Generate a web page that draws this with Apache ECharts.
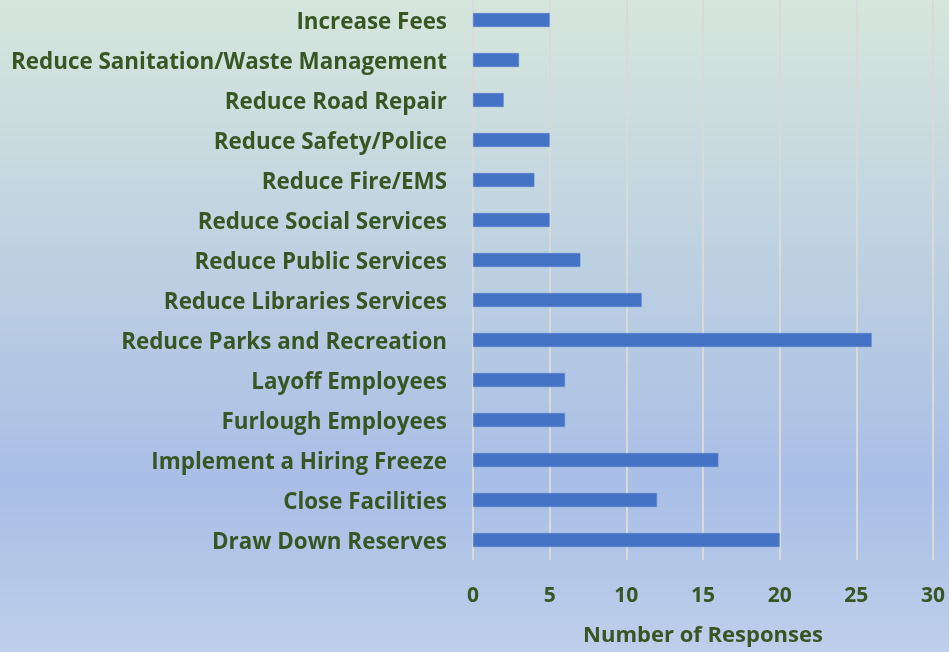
<!DOCTYPE html>
<html>
<head>
<meta charset="utf-8">
<script src="https://cdn.jsdelivr.net/npm/echarts@6/dist/echarts.min.js"></script>
<style>
  html, body { margin: 0; padding: 0; }
  #chart { width: 949px; height: 652px; }
</style>
</head>
<body>
<div id="chart"></div>
<script>
// Budget responses, listed top to bottom as shown
const categories = [
  'Increase Fees',
  'Reduce Sanitation/Waste Management',
  'Reduce Road Repair',
  'Reduce Safety/Police',
  'Reduce Fire/EMS',
  'Reduce Social Services',
  'Reduce Public Services',
  'Reduce Libraries Services',
  'Reduce Parks and Recreation',
  'Layoff Employees',
  'Furlough Employees',
  'Implement a Hiring Freeze',
  'Close Facilities',
  'Draw Down Reserves'
];
const responses = [5, 3, 2, 5, 4, 5, 7, 11, 26, 6, 6, 16, 12, 20];
const axisTitle = 'Number of Responses';

const textColor = '#375623';
const fontFamily = '"Open Sans", Lato, sans-serif';

const chart = echarts.init(document.getElementById('chart'));
chart.setOption({
  backgroundColor: new echarts.graphic.LinearGradient(0, 0, 0, 1, [
    { offset: 0, color: '#d6e6dc' },
    { offset: 0.74, color: '#a9bee6' },
    { offset: 1, color: '#bdcfea' }
  ]),
  animation: false,
  grid: { left: 473, right: 16, top: 0, bottom: 92, containLabel: false },
  xAxis: {
    type: 'value',
    min: 0,
    max: 30,
    interval: 5,
    axisLine: { show: false },
    axisTick: { show: false },
    splitLine: { show: true, lineStyle: { color: '#d9d9d9', width: 2 } },
    axisLabel: {
      color: textColor,
      fontFamily: fontFamily,
      fontWeight: 'bold',
      fontSize: 21,
      margin: 26
    },
    name: axisTitle,
    nameLocation: 'middle',
    nameGap: 65,
    nameTextStyle: {
      color: textColor,
      fontFamily: fontFamily,
      fontWeight: 'bold',
      fontSize: 22
    }
  },
  yAxis: {
    type: 'category',
    inverse: true,
    data: categories,
    axisLine: { show: false },
    axisTick: { show: false },
    axisLabel: {
      margin: 26,
      formatter: '{cat|{value}}',
      rich: {
        cat: {
          color: textColor,
          fontFamily: fontFamily,
          fontWeight: 'bold',
          fontSize: 22.4,
          padding: [5, 0, 0, 0]
        }
      }
    }
  },
  series: [{
    type: 'bar',
    data: responses,
    barWidth: 14,
    itemStyle: { color: '#4472c4', borderColor: '#5b85d0', borderWidth: 0.5 }
  }]
});
</script>
</body>
</html>
